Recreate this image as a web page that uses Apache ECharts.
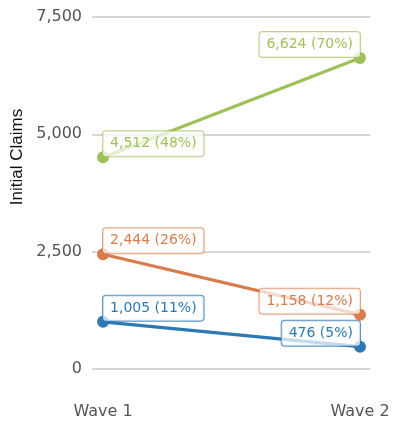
<!DOCTYPE html>
<html>
<head>
<meta charset="utf-8">
<script src="https://cdn.jsdelivr.net/npm/echarts@6/dist/echarts.min.js"></script>
<style>
html,body{margin:0;padding:0;background:#fff;}
#chart{width:415px;height:421px;}
</style>
</head>
<body>
<div id="chart"></div>
<script>
const categories = ['Wave 1', 'Wave 2'];
const seriesNames = ['Blue', 'Orange', 'Green'];
const blueValues = [1005, 476];
const bluePct = [11, 5];
const orangeValues = [2444, 1158];
const orangePct = [26, 12];
const greenValues = [4512, 6624];
const greenPct = [48, 70];
const yTicks = [0, 2500, 5000, 7500];

const colors = ['#2e78b4', '#d67c4d', '#9fc15a'];
const borders = ['rgba(46,120,180,0.8)', 'rgba(214,124,77,0.7)', 'rgba(159,193,90,0.7)'];

function fmt(n){ return n.toLocaleString('en-US'); }

function makeSeries(name, values, pcts, idx){
  return {
    name: name,
    type: 'line',
    data: values.map((v, i) => ({ value: [i, v], label: { align: i === 0 ? 'left' : 'right' } })),
    symbol: 'circle',
    symbolSize: 12,
    lineStyle: { width: 3.2, color: colors[idx] },
    itemStyle: { color: colors[idx] },
    label: {
      show: true,
      position: 'top',
      distance: -5,
      formatter: p => fmt(p.value[1]) + ' (' + pcts[p.dataIndex] + '%)',
      color: colors[idx],
      fontFamily: 'DejaVu Sans',
      fontSize: 14,
      lineHeight: 17,
      padding: [4, 7, 4, 7],
      backgroundColor: 'rgba(255,255,255,0.72)',
      borderColor: borders[idx],
      borderWidth: 1,
      borderRadius: 3
    },
    emphasis: { disabled: true },
    animation: false,
    z: 2 + idx
  };
}

const chart = echarts.init(document.getElementById('chart'));
const series = [
  makeSeries(seriesNames[0], blueValues, bluePct, 0),
  makeSeries(seriesNames[1], orangeValues, orangePct, 1),
  makeSeries(seriesNames[2], greenValues, greenPct, 2)
];

chart.setOption({
  animation: false,
  grid: { left: 92, right: 45, top: 17, bottom: 52 },
  xAxis: {
    type: 'value',
    min: -0.043,
    max: 1.039,
    axisLine: { show: false },
    axisTick: { show: false },
    splitLine: { show: false },
    axisLabel: {
      customValues: [0, 1],
      formatter: v => categories[Math.round(v)],
      color: '#555',
      fontFamily: 'DejaVu Sans',
      fontSize: 16,
      margin: 35
    }
  },
  yAxis: {
    type: 'value',
    min: yTicks[0],
    max: yTicks[yTicks.length - 1],
    interval: 2500,
    axisLine: { show: false },
    axisTick: { show: false },
    splitLine: { lineStyle: { color: '#c8c8c8', width: 1.5 } },
    axisLabel: {
      formatter: v => fmt(v),
      color: '#555',
      fontFamily: 'DejaVu Sans',
      fontSize: 16,
      margin: 10
    }
  },
  graphic: [{
    type: 'text',
    x: 17,
    y: 157,
    rotation: Math.PI / 2,
    style: {
      text: 'Initial Claims',
      fill: '#111',
      font: '17px "Liberation Sans"',
      align: 'center',
      verticalAlign: 'middle'
    }
  }],
  series: series
});
</script>
</body>
</html>
